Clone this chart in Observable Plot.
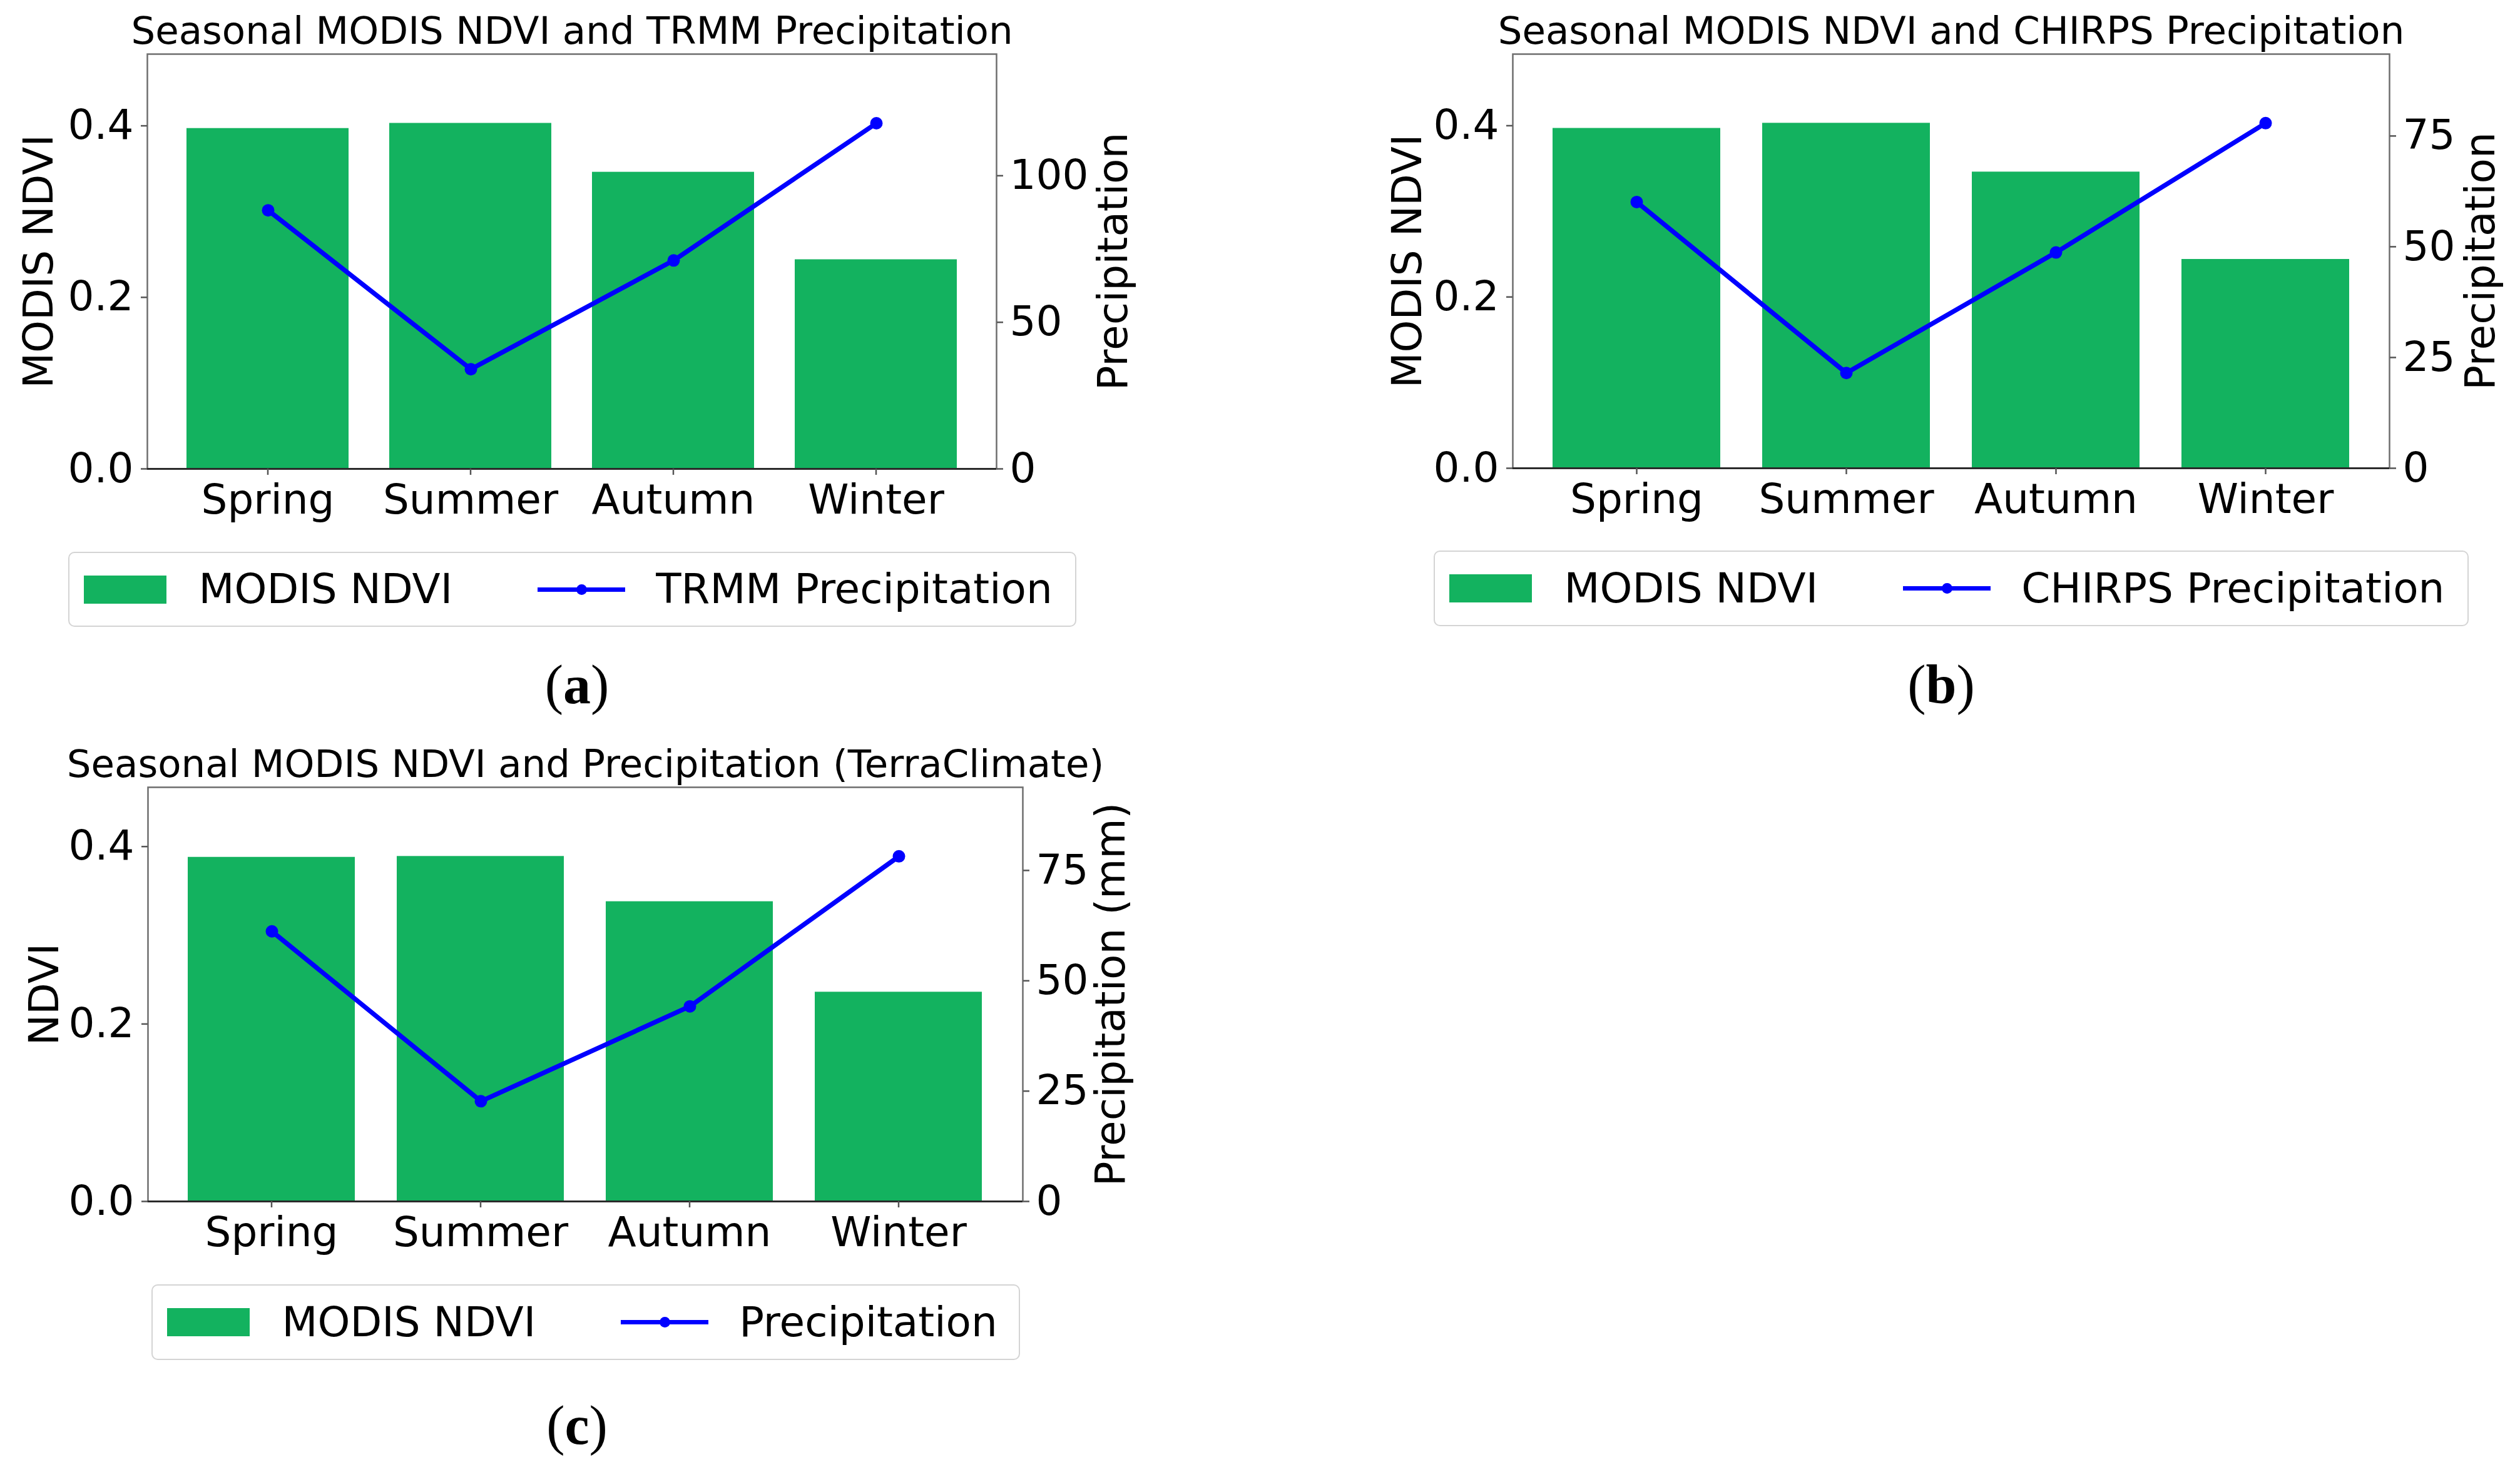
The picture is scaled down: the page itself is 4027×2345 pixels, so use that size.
<!DOCTYPE html>
<html><head><meta charset="utf-8">
<script src="https://cdn.jsdelivr.net/npm/d3@7"></script>
<script src="https://cdn.jsdelivr.net/npm/@observablehq/plot@0.6"></script>
<style>
html,body{margin:0;padding:0;background:#fff;width:4027px;height:2345px;overflow:hidden;}
body{position:relative;font-family:"DejaVu Sans",sans-serif;}
.wrap{position:absolute;}
.legend{position:absolute;box-sizing:border-box;border:2.5px solid #d4d4d4;border-radius:10px;display:flex;align-items:center;font-size:66px;line-height:66px;color:#000;white-space:nowrap;background:#fff;padding-left:22.5px;}
.patch{width:132px;height:45px;flex:none;}
.lline{position:relative;width:140px;height:7px;background:#0000ff;flex:none;}
.lline::after{content:"";position:absolute;left:61.5px;top:-5px;width:17px;height:17px;border-radius:50%;background:#0000ff;}
.sub{position:absolute;width:300px;text-align:center;font-family:"Liberation Serif","Times New Roman",serif;font-size:88px;line-height:88px;color:#000;}
</style></head><body>
<script>
// ---- data ----
const seasons = ["Spring", "Summer", "Autumn", "Winter"];
const ndviModis = [0.397, 0.403, 0.346, 0.244];
const ndviTerra = [0.388, 0.389, 0.338, 0.236];
const precipTrmm = [88.2, 34.0, 71.1, 117.9];
const precipChirps = [60.1, 21.5, 48.7, 77.9];
const precipTerra = [61.2, 22.7, 44.2, 78.2];
const ndviTicks = [0, 0.2, 0.4];
const trmmTicks = [0, 50, 100];
const chirpsTicks = [0, 25, 50, 75];
const terraTicks = [0, 25, 50, 75];
const titleA = "Seasonal MODIS NDVI and TRMM Precipitation";
const titleB = "Seasonal MODIS NDVI and CHIRPS Precipitation";
const titleC = "Seasonal MODIS NDVI and Precipitation (TerraClimate)";
const leftLabelAB = "MODIS NDVI";
const leftLabelC = "NDVI";
const rightLabelAB = "Precipitation";
const rightLabelC = "Precipitation (mm)";
const legendBar = "MODIS NDVI";
const legendLineA = "TRMM Precipitation";
const legendLineB = "CHIRPS Precipitation";
const legendLineC = "Precipitation";

const GREEN = "#13b25f";
const BLUE = "#0000ff";
const FONT = "DejaVu Sans";

const panels = [
  {ndvi: ndviModis, precip: precipTrmm, pTicks: trmmTicks, title: titleA, leftLabel: leftLabelAB, rightLabel: rightLabelAB,
   legendLine: legendLineA, frame: {L: 235, T: 86, R: 1592, B: 749}, mR: 230, lDx: -152, rDx: 208,
   legend: {x: 109, y: 882, w: 1611, h: 120}, sub: {text: "a", cx: 922, top: 1051}},
  {ndvi: ndviModis, precip: precipChirps, pTicks: chirpsTicks, title: titleB, leftLabel: leftLabelAB, rightLabel: rightLabelAB,
   legendLine: legendLineB, frame: {L: 2417, T: 86, R: 3818, B: 748}, mR: 200, lDx: -147, rDx: 167,
   legend: {x: 2291, y: 880, w: 1654, h: 121}, sub: {text: "b", cx: 3102, top: 1051}},
  {ndvi: ndviTerra, precip: precipTerra, pTicks: terraTicks, title: titleC, leftLabel: leftLabelC, rightLabel: rightLabelC,
   legendLine: legendLineC, frame: {L: 236, T: 1258, R: 1634, B: 1920}, mR: 230, lDx: -144, rDx: 162,
   legend: {x: 242, y: 2053, w: 1388, h: 121}, sub: {text: "c", cx: 922, top: 2235}}
];

const mL = 230, mT = 100, mB = 130;

function place(svg, left, top, w) {
  const d = document.createElement("div");
  d.className = "wrap";
  d.style.left = left + "px";
  d.style.top = top + "px";
  d.style.width = w + "px";
  d.appendChild(svg);
  document.body.appendChild(d);
}

for (const p of panels) {
  const f = p.frame;
  const width = mL + (f.R - f.L) + p.mR;
  const height = mT + (f.B - f.T) + mB;
  const rows = seasons.map((s, i) => ({season: s, ndvi: p.ndvi[i], precip: p.precip[i]}));
  const common = {
    width, height, marginLeft: mL, marginRight: p.mR, marginTop: mT, marginBottom: mB,
    style: {fontFamily: FONT, fontSize: "66px", background: "none", overflow: "visible", color: "#000"}
  };

  const bars = Plot.plot({
    ...common,
    x: {type: "band", domain: seasons, paddingInner: 0.2, paddingOuter: 0.19, label: null},
    y: {domain: [0, d3.max(p.ndvi) * 1.2], label: null},
    marks: [
      Plot.barY(rows, {x: "season", y: "ndvi", fill: GREEN}),
      Plot.frame({stroke: "#6e6e6e", strokeWidth: 2.5}),
      Plot.ruleY([0], {stroke: "#2a2a2a", strokeWidth: 3}),
      Plot.axisY({anchor: "left", ticks: ndviTicks, tickSize: 10, tickPadding: 12, tickFormat: d => d.toFixed(1),
        label: null, stroke: "#555", strokeWidth: 2.5, fill: "#000", fontSize: 66}),
      Plot.axisX({anchor: "bottom", tickSize: 10, tickPadding: 15, label: null,
        stroke: "#555", strokeWidth: 2.5, fill: "#000", fontSize: 66}),
      Plot.text([p.leftLabel], {text: d => d, frameAnchor: "left", dx: p.lDx, rotate: -90, lineAnchor: "bottom",
        textAnchor: "middle", fontSize: 66, fill: "#000"}),
      Plot.text([p.title], {text: d => d, frameAnchor: "top", dy: -17, lineAnchor: "bottom",
        textAnchor: "middle", fontSize: 61, fill: "#000"})
    ]
  });
  place(bars, f.L - mL, f.T - mT, width);

  const line = Plot.plot({
    ...common,
    x: {type: "point", domain: seasons, padding: 0.59, axis: null},
    y: {domain: [0, d3.max(p.precip) * 1.2], label: null},
    marks: [
      Plot.lineY(rows, {x: "season", y: "precip", stroke: BLUE, strokeWidth: 7.5}),
      Plot.dot(rows, {x: "season", y: "precip", r: 10, fill: BLUE}),
      Plot.axisY({anchor: "right", ticks: p.pTicks, tickSize: 10, tickPadding: 11, label: null,
        stroke: "#555", strokeWidth: 2.5, fill: "#000", fontSize: 66}),
      Plot.text([p.rightLabel], {text: d => d, frameAnchor: "right", dx: p.rDx, rotate: -90, lineAnchor: "bottom",
        textAnchor: "middle", fontSize: 66, fill: "#000"})
    ]
  });
  place(line, f.L - mL, f.T - mT, width);

  // legend
  const lg = document.createElement("div");
  lg.className = "legend";
  Object.assign(lg.style, {left: p.legend.x + "px", top: p.legend.y + "px", width: p.legend.w + "px", height: p.legend.h + "px"});
  const patch = document.createElement("div");
  patch.className = "patch"; patch.style.background = GREEN;
  const t1 = document.createElement("span");
  t1.textContent = legendBar; t1.style.marginLeft = "52px";
  const ln = document.createElement("div");
  ln.className = "lline"; ln.style.marginLeft = "136px";
  const t2 = document.createElement("span");
  t2.textContent = p.legendLine; t2.style.marginLeft = "49px";
  lg.append(patch, t1, ln, t2);
  document.body.appendChild(lg);

  // sub-label
  const sb = document.createElement("div");
  sb.className = "sub";
  sb.style.left = (p.sub.cx - 150) + "px";
  sb.style.top = p.sub.top + "px";
  sb.innerHTML = "(<b>" + p.sub.text + "</b>)";
  document.body.appendChild(sb);
}
</script>
</body></html>
